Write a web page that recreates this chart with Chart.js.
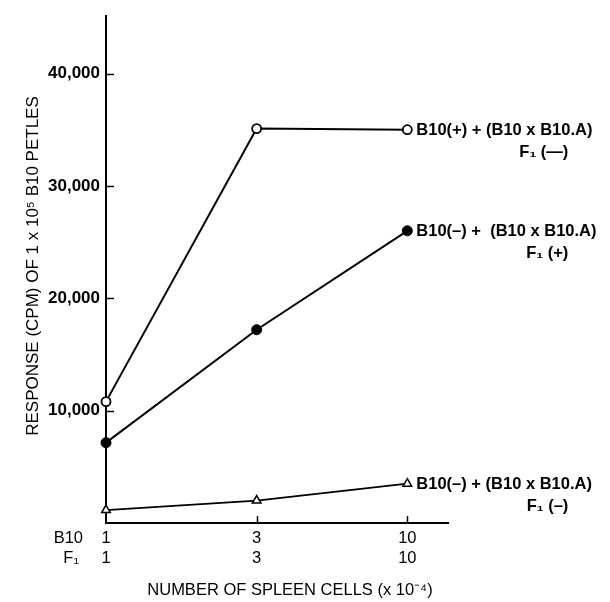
<!DOCTYPE html>
<html>
<head>
<meta charset="utf-8">
<script src="https://cdn.jsdelivr.net/npm/chart.js@4.4.1/dist/chart.umd.min.js"></script>
<style>
html,body{margin:0;padding:0;background:#fff;}
#wrap{width:610px;height:602px;}
</style>
</head>
<body>
<div id="wrap"><canvas id="c" width="610" height="602"></canvas></div>
<script>
// ---- data ----
const b10Cells = ["1", "3", "10"];
const f1Cells = ["1", "3", "10"];
const openCircle = [10800, 35100, 35000];   // B10(+) + (B10 x B10.A) F1(-)
const filledCircle = [7150, 17200, 26000];  // B10(-) + (B10 x B10.A) F1(+)
const openTriangle = [1150, 2000, 3500];    // B10(-) + (B10 x B10.A) F1(-)
const yTicks = [10000, 20000, 30000, 40000];
const seriesLabels = [
  ["B10(+) + (B10 x B10.A)", "F\u2081 (\u2014)"],
  ["B10(\u2013) +  (B10 x B10.A)", "F\u2081 (+)"],
  ["B10(\u2013) + (B10 x B10.A)", "F\u2081 (\u2013)"]
];
const yTitle = "RESPONSE (CPM) OF 1 x 10\u2075 B10 PETLES";
const xTitle = "NUMBER OF SPLEEN CELLS (x 10\u207B\u2074)";
const rowNames = ["B10", "F\u2081"];

const FONT = "'Liberation Sans', Arial, Helvetica, sans-serif";

function toPts(arr){ return arr.map((v,i)=>({x:i, y:v})); }

const annot = {
  id: 'annot',
  afterDraw(chart){
    const ctx = chart.ctx;
    const xs = chart.scales.x, ys = chart.scales.y;
    const area = chart.chartArea;
    ctx.save();
    ctx.fillStyle = '#000';
    ctx.strokeStyle = '#000';
    ctx.lineWidth = 1.5;
    // inward ticks on y
    yTicks.forEach(v=>{
      const py = Math.round(ys.getPixelForValue(v)) + 0.5;
      ctx.beginPath(); ctx.moveTo(area.left, py); ctx.lineTo(area.left + 8, py); ctx.stroke();
    });
    // inward ticks on x
    b10Cells.forEach((c,i)=>{
      if(i===0) return;
      const px = Math.round(xs.getPixelForValue(i)) + 0.5;
      ctx.beginPath(); ctx.moveTo(px, area.bottom); ctx.lineTo(px, area.bottom - 7); ctx.stroke();
    });
    // series labels at right
    const datas = [openCircle, filledCircle, openTriangle];
    ctx.font = "bold 16.5px " + FONT;
    datas.forEach((d, k)=>{
      const last = d.length - 1;
      const px = xs.getPixelForValue(last);
      const py = ys.getPixelForValue(d[last]);
      ctx.textAlign = 'left'; ctx.textBaseline = 'middle';
      ctx.fillText(seriesLabels[k][0], px + 9, py + 1);
      ctx.textAlign = 'right';
      ctx.fillText(seriesLabels[k][1], px + 161, py + 23);
    });
    // row names for x tick rows
    ctx.font = "16.5px " + FONT;
    ctx.textAlign = 'right'; ctx.textBaseline = 'middle';
    ctx.fillText(rowNames[0], 83, 538);
    ctx.fillText(rowNames[1], 79, 558);
    // x title
    ctx.font = "16.5px " + FONT;
    ctx.textAlign = 'center';
    ctx.fillText(xTitle, 290, 590);
    // y title
    ctx.translate(33, 266);
    ctx.rotate(-Math.PI/2);
    ctx.font = "17px " + FONT;
    ctx.fillText(yTitle, 0, 0);
    ctx.restore();
  }
};

new Chart(document.getElementById('c'), {
  type: 'line',
  data: {
    datasets: [
      { data: toPts(openCircle), borderColor:'#000', borderWidth:2, pointStyle:'circle', pointRadius:4.5,
        pointBackgroundColor:'#fff', pointBorderColor:'#000', pointBorderWidth:1.8, tension:0, clip:false },
      { data: toPts(filledCircle), borderColor:'#000', borderWidth:2, pointStyle:'circle', pointRadius:5,
        pointBackgroundColor:'#000', pointBorderColor:'#000', pointBorderWidth:1, tension:0, clip:false },
      { data: toPts(openTriangle), borderColor:'#000', borderWidth:1.8, pointStyle:'triangle', pointRadius:5,
        pointBackgroundColor:'#fff', pointBorderColor:'#000', pointBorderWidth:1.5, tension:0, clip:false }
    ]
  },
  options: {
    responsive:false,
    animation:false,
    devicePixelRatio:1,
    layout:{ padding:{ top:10, right:162, left:0, bottom:0 } },
    plugins:{ legend:{display:false}, tooltip:{enabled:false} },
    scales:{
      x:{
        type:'linear', min:0, max:2.27,
        grid:{display:false, drawTicks:false},
        border:{display:true, color:'#000', width:2},
        afterBuildTicks(s){ s.ticks = b10Cells.map((c,i)=>({value:i})); },
        ticks:{
          color:'#000', padding:5, maxRotation:0, autoSkip:false,
          font:{family:FONT, size:16.5, lineHeight:1.25},
          callback:(v)=> [b10Cells[v], f1Cells[v]]
        },
        afterFit(s){ s.height = 79; }
      },
      y:{
        type:'linear', min:0, max:45100,
        grid:{display:false, drawTicks:false},
        border:{display:true, color:'#000', width:2},
        afterBuildTicks(s){ s.ticks = yTicks.map(v=>({value:v})); },
        ticks:{
          color:'#000', padding:6,
          font:{family:FONT, size:17, weight:'bold'},
          callback:(v)=> v.toLocaleString('en-US')
        },
        afterFit(s){ s.width = 106; }
      }
    }
  },
  plugins:[annot]
});
</script>
</body>
</html>
